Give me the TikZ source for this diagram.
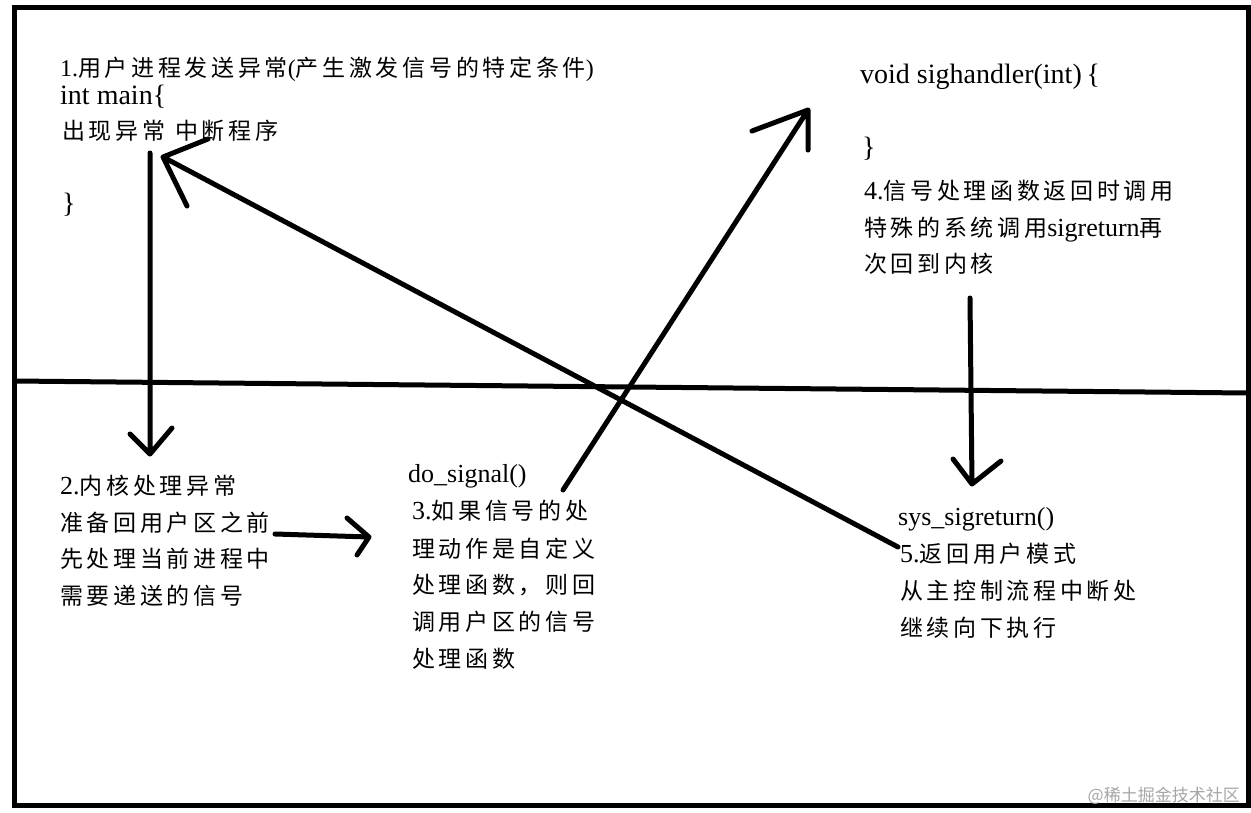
\documentclass[tikz,border=0pt]{standalone}
\usepackage{fontspec}
\setmainfont{Liberation Serif}
\newfontfamily\cjk[LetterSpace=16]{Noto Sans CJK SC}
\newfontfamily\cjkwm{Noto Sans CJK SC}
\newcommand\zh[1]{{\cjk\fontsize{23}{27}\selectfont #1}}
\begin{document}
\begin{tikzpicture}[x=1pt,y=-1pt,
  txt/.style={anchor=base west, inner sep=0pt, font=\fontsize{26}{30}\selectfont},
  big/.style={txt, font=\fontsize{28}{32}\selectfont},
  stroke/.style={line width=5pt, line cap=round, line join=round},
  frame/.style={line width=5pt}]
\useasboundingbox (0,0) rectangle (1251,812);
\fill[white] (0,0) rectangle (1251,812);
\draw[frame] (14,7.5) rectangle (1248.5,805.5);
\coordinate (divL) at (14,381);
\coordinate (divR) at (1248.5,393);
\draw[frame] (divL) -- (divR);

% block 1
\node[txt, font=\fontsize{24}{28}\selectfont] (l1a) at (60,76) {1.\zh{用户进程发送异常}(\zh{产生激发信号的特定条件})};
\node[big] (l1b) at (60,104) {int main\{};
\node[txt] (l1c) at (62,139) {\zh{出现异常}\hspace{10pt}\zh{中断程序}};
\node[big] (l1d) at (62,212) {\}};
% block 2
\node[txt] (l2a) at (60,494) {2.\zh{内核处理异常}};
\node[txt] (l2b) at (60,531) {\zh{准备回用户区之前}};
\node[txt] (l2c) at (60,567) {\zh{先处理当前进程中}};
\node[txt] (l2d) at (60,604) {\zh{需要递送的信号}};
% block 3
\node[txt] (l3a) at (408,482) {do\_signal()};
\node[txt] (l3b) at (412,519) {3.\zh{如果信号的处}};
\node[txt] (l3c) at (412,557) {\zh{理动作是自定义}};
\node[txt] (l3d) at (412,593) {\zh{处理函数，则回}};
\node[txt] (l3e) at (412,630) {\zh{调用户区的信号}};
\node[txt] (l3f) at (412,667) {\zh{处理函数}};
% block 4
\node[big] (l4a) at (860,83) {void sighandler(int)\,\{};
\node[big] (l4b) at (862,156) {\}};
\node[txt] (l4c) at (864,199) {4.\zh{信号处理函数返回时调用}};
\node[txt] (l4d) at (864,236) {\zh{特殊的系统调用}sigreturn\zh{再}};
\node[txt] (l4e) at (864,272) {\zh{次回到内核}};
% block 5
\node[txt] (l5a) at (898,525) {sys\_sigreturn()};
\node[txt] (l5b) at (900,562) {5.\zh{返回用户模式}};
\node[txt] (l5c) at (900,599) {\zh{从主控制流程中断处}};
\node[txt] (l5d) at (900,636) {\zh{继续向下执行}};
% watermark
\node[anchor=base east, inner sep=0pt, text=black!35, font=\cjkwm\fontsize{17}{20}\selectfont] (wm) at (1240,801) {@稀土掘金技术社区};

% arrows (hand-drawn open heads)
\coordinate (aT) at (150,153); \coordinate (aH) at (150,454);
\coordinate (aL) at (130,434); \coordinate (aR) at (172,428);
\draw[stroke] (aT) -- (aH) (aL) -- (aH) -- (aR);

\coordinate (bT) at (898,547); \coordinate (bH) at (163,157);
\coordinate (bL) at (208,139); \coordinate (bR) at (187,206);
\draw[stroke] (bT) -- (bH) (bL) -- (bH) -- (bR);

\coordinate (cT) at (563,490); \coordinate (cH) at (808,110);
\coordinate (cL) at (752,131); \coordinate (cR) at (808,150);
\draw[stroke] (cT) -- (cH) (cL) -- (cH) -- (cR);

\coordinate (dT) at (275,534); \coordinate (dH) at (369,537);
\coordinate (dL) at (347,518); \coordinate (dR) at (357,555);
\draw[stroke] (dT) -- (dH) (dL) -- (dH) -- (dR);

\coordinate (eT) at (970,298); \coordinate (eH) at (972,484);
\coordinate (eL) at (953,459); \coordinate (eR) at (1001,461);
\draw[stroke] (eT) -- (eH) (eL) -- (eH) -- (eR);
\end{tikzpicture}
\end{document}
